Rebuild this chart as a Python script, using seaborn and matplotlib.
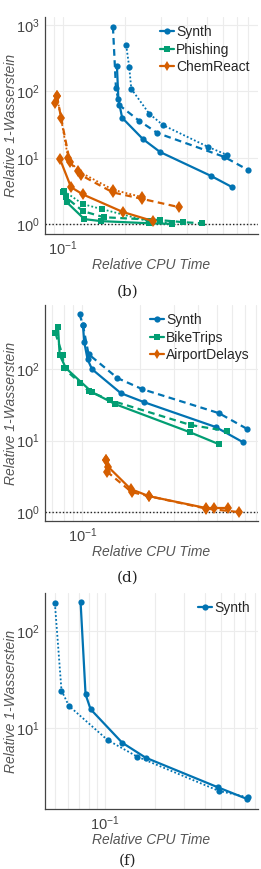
import matplotlib
matplotlib.use("Agg")
import matplotlib.pyplot as plt
from matplotlib.lines import Line2D
import seaborn as sns

# panel (b)
synth_b_solid_x = [0.183, 0.186, 0.194, 0.245, 0.297, 0.527, 0.667]
synth_b_solid_y = [242, 77, 40, 19.1, 12.2, 5.3, 3.6]
synth_b_dash_x = [0.175, 0.181, 0.188, 0.235, 0.288, 0.610, 0.799]
synth_b_dash_y = [936, 113, 62, 36, 23.6, 10.3, 6.5]
synth_b_dot_x = [0.203, 0.210, 0.215, 0.263, 0.307, 0.510, 0.631]
synth_b_dot_y = [500, 233, 109, 46, 31, 14.5, 11.0]

phish_solid_x = [0.100, 0.1046, 0.127, 0.153, 0.263, 0.340]
phish_solid_y = [3.0, 2.12, 1.19, 1.11, 1.03, 1.01]
phish_dash_x = [0.100, 0.103, 0.125, 0.158, 0.297, 0.385, 0.476]
phish_dash_y = [3.1, 2.55, 1.57, 1.27, 1.15, 1.07, 1.03]
phish_dot_x = [0.101, 0.125, 0.155, 0.263, 0.340]
phish_dot_y = [3.15, 2.0, 1.68, 1.10, 1.04]

chem_solid_x = [0.0967, 0.1094, 0.125, 0.196, 0.275]
chem_solid_y = [9.5, 3.6, 2.8, 1.52, 1.11]
chem_dash_x = [0.0935, 0.0978, 0.108, 0.122, 0.175, 0.243, 0.368]
chem_dash_y = [85, 40, 8.6, 5.5, 3.0, 2.4, 1.8]
chem_dot_x = [0.0914, 0.0935, 0.1058, 0.1183, 0.175, 0.243]
chem_dot_y = [67, 85, 10, 6.3, 3.3, 2.55]

# panel (d)
synth_d_solid_x = [0.1008, 0.1024, 0.1065, 0.1123, 0.1587, 0.2095, 0.494, 0.685]
synth_d_solid_y = [412, 239, 138, 100, 46.1, 34.5, 15.5, 9.5]
synth_d_dash_x = [0.0968, 0.1008, 0.1078, 0.1524, 0.205, 0.514, 0.722]
synth_d_dash_y = [588, 412, 162, 75, 52.5, 24.2, 14.5]

bike_solid_x = [0.0748, 0.0763, 0.0823, 0.1123, 0.1483, 0.363, 0.514]
bike_solid_y = [387, 157, 103, 47.7, 32.4, 13.1, 8.9]
bike_dash_x = [0.0725, 0.079, 0.080, 0.0976, 0.1078, 0.1397, 0.367, 0.569]
bike_dash_y = [319, 157, 103, 64, 49.2, 36.8, 16.5, 13.6]

air_solid_x = [0.1331, 0.1368, 0.1786, 0.222, 0.439, 0.485, 0.573]
air_solid_y = [5.34, 4.26, 2.1, 1.67, 1.14, 1.14, 1.14]
air_dash_x = [0.1331, 0.1352, 0.181, 0.222, 0.439, 0.653]
air_dash_y = [5.34, 3.63, 1.9, 1.67, 1.12, 1.0]

# panel (f)
synth_f_solid_x = [0.0714, 0.0765, 0.082, 0.127, 0.1758, 0.477, 0.719]
synth_f_solid_y = [198, 22.2, 15.6, 7.05, 4.94, 2.45, 1.85]
synth_f_dot_x = [0.050, 0.0548, 0.0607, 0.1038, 0.1565, 0.486, 0.724]
synth_f_dot_y = [193, 24.3, 16.9, 7.5, 5.06, 2.24, 1.93]

sns.set_style("whitegrid")
plt.rcParams["font.family"] = ["Liberation Sans", "DejaVu Sans"]
plt.rcParams["mathtext.fontset"] = "custom"
plt.rcParams["mathtext.rm"] = "Liberation Sans"
plt.rcParams["mathtext.it"] = "Liberation Sans:italic"

pal = sns.color_palette("colorblind")
blue, green, orange = pal[0], pal[2], pal[3]

styles = {
    "solid": dict(linestyle="-", linewidth=1.6),
    "dash": dict(linestyle=(0, (3, 2)), linewidth=1.6),
    "dot": dict(linestyle=(0, (1, 1.2)), linewidth=1.3),
}

fig = plt.figure(figsize=(2.61, 8.69), dpi=100)
W, H = 261, 869


def make_ax(top, bottom):
    return fig.add_axes([45 / W, 1 - bottom / H, 213 / W, (bottom - top) / H])


def draw(ax, x, y, color, marker, style, ms):
    sns.lineplot(x=x, y=y, ax=ax, color=color, marker=marker, markersize=ms,
                 markeredgewidth=0, sort=False, estimator=None, **styles[style])


def finish(ax, xlim, ylim, legend, one_line):
    ax.set_xscale("log")
    ax.set_yscale("log")
    ax.set_xlim(*xlim)
    ax.set_ylim(*ylim)
    ax.set_xticks([0.1])
    ax.set_xticklabels([r"$10^{-1}$"])
    ax.grid(True, which="major", color="#ececec", linewidth=0.8)
    ax.grid(True, which="minor", axis="x", color="#ececec", linewidth=0.8)
    for s in ["top", "right"]:
        ax.spines[s].set_visible(False)
    for s in ["left", "bottom"]:
        ax.spines[s].set_color("#444444")
        ax.spines[s].set_linewidth(0.9)
    ax.tick_params(axis="both", which="major", labelsize=10.5, colors="#444444",
                   length=3, width=0.8, pad=1)
    ax.tick_params(axis="y", which="minor", length=2, width=0.6, colors="#444444")
    ax.tick_params(axis="x", which="minor", length=0)
    ax.set_xlabel("Relative CPU Time", fontsize=10, style="italic",
                  color="#555555", labelpad=0)
    ax.set_ylabel("Relative 1-Wasserstein", fontsize=10, style="italic",
                  color="#555555")
    ax.yaxis.set_label_coords(-27 / 213, 0.5)
    if one_line:
        ax.axhline(1.0, color="#222222", linestyle=(0, (1, 1.5)), linewidth=1.0, zorder=1)
    handles = [Line2D([], [], color=c, marker=m, markersize=ms, markeredgewidth=0,
                      linewidth=1.6) for _, c, m, ms in legend]
    ax.legend(handles, [n for n, _, _, _ in legend], loc="upper right",
              frameon=False, fontsize=10, handlelength=1.0, handletextpad=0.15,
              labelspacing=0.25, borderaxespad=0.2)


# (b)
ax1 = make_ax(17, 234)
draw(ax1, synth_b_solid_x, synth_b_solid_y, blue, "o", "solid", 4.5)
draw(ax1, synth_b_dash_x, synth_b_dash_y, blue, "o", "dash", 4.5)
draw(ax1, synth_b_dot_x, synth_b_dot_y, blue, "o", "dot", 4.5)
draw(ax1, phish_solid_x, phish_solid_y, green, "s", "solid", 4.5)
draw(ax1, phish_dash_x, phish_dash_y, green, "s", "dash", 4.5)
draw(ax1, phish_dot_x, phish_dot_y, green, "s", "dot", 4.5)
draw(ax1, chem_solid_x, chem_solid_y, orange, "d", "solid", 6)
draw(ax1, chem_dash_x, chem_dash_y, orange, "d", "dash", 6)
draw(ax1, chem_dot_x, chem_dot_y, orange, "d", "dot", 6)
finish(ax1, (0.0817, 0.89), (0.71, 1320),
       [("Synth", blue, "o", 4.5), ("Phishing", green, "s", 4.5),
        ("ChemReact", orange, "d", 5)], True)

# (d)
ax2 = make_ax(305, 521)
draw(ax2, synth_d_solid_x, synth_d_solid_y, blue, "o", "solid", 4.5)
draw(ax2, synth_d_dash_x, synth_d_dash_y, blue, "o", "dash", 4.5)
draw(ax2, bike_solid_x, bike_solid_y, green, "s", "solid", 4.5)
draw(ax2, bike_dash_x, bike_dash_y, green, "s", "dash", 4.5)
draw(ax2, air_solid_x, air_solid_y, orange, "d", "solid", 6)
draw(ax2, air_dash_x, air_dash_y, orange, "d", "dash", 6)
finish(ax2, (0.064, 0.82), (0.75, 790),
       [("Synth", blue, "o", 4.5), ("BikeTrips", green, "s", 4.5),
        ("AirportDelays", orange, "d", 5)], True)

# (f)
ax3 = make_ax(593, 809)
draw(ax3, synth_f_solid_x, synth_f_solid_y, blue, "o", "solid", 4.5)
draw(ax3, synth_f_dot_x, synth_f_dot_y, blue, "o", "dot", 4.5)
finish(ax3, (0.0436, 0.835), (1.46, 246), [("Synth", blue, "o", 4.5)], False)

for label, ypix in [("(b)", 292), ("(d)", 578), ("(f)", 861)]:
    fig.text(128 / W, 1 - ypix / H, label, ha="center", va="center",
             fontsize=11, family="DejaVu Serif", color="#222222")

fig.savefig("out.png", dpi=100)
